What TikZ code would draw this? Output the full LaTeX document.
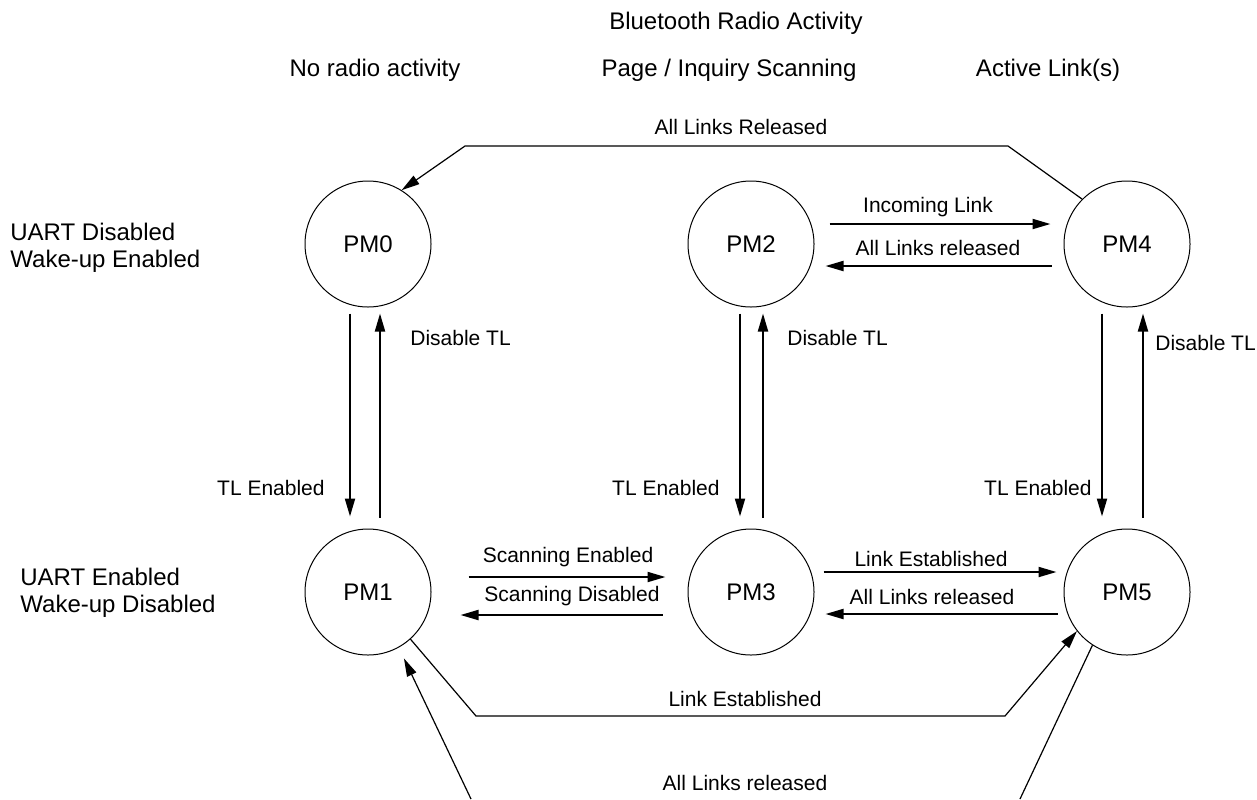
\documentclass[tikz,border=0pt]{standalone}
\usepackage{fontspec}
\setmainfont{Liberation Sans}
\usetikzlibrary{arrows.meta}
\usetikzlibrary{positioning}
\usetikzlibrary{calc}

\tikzset{
  state/.style={draw, circle, line width=0.5pt, minimum size=63pt, inner sep=0pt, font=\fontsize{12}{14}\selectfont},
  trans/.style={-{Triangle[length=9pt,width=5pt]}, line width=1pt},
  link/.style={-{Triangle[length=9pt,width=5pt]}, line width=0.6pt},
  lbl/.style={font=\fontsize{10.5}{12}\selectfont, inner sep=0pt},
  head/.style={font=\fontsize{12}{13.5}\selectfont, inner sep=0pt}
}

\begin{document}
\begin{tikzpicture}[x=0.5pt, y=-0.5pt]
\useasboundingbox (0,0) rectangle (1257,799);
\clip (0,0) rectangle (1257,799);

%headers
\node[head] (radio) at (736,23) {Bluetooth Radio Activity};
\node[head] (none) at (375,70) {No radio activity};
\node[head] (scan) at (729,70) {Page / Inquiry Scanning};
\node[head] (active) at (1048,70) {Active Link(s)};
\node[head, anchor=west, align=left] (uartoff) at (10,248) {UART Disabled\\Wake-up Enabled};
\node[head, anchor=west, align=left] (uarton) at (20,593) {UART Enabled\\Wake-up Disabled};

%states
\node[state] (PM0) at (368,244) {PM0};
\node[state] (PM2) at (751,244) {PM2};
\node[state] (PM4) at (1127,244) {PM4};
\node[state] (PM1) at (368,592) {PM1};
\node[state] (PM3) at (751,592) {PM3};
\node[state] (PM5) at (1127,592) {PM5};

%bends of the long links
\coordinate (relA) at (1008,146);
\coordinate (relB) at (465,146);
\coordinate (estA) at (476,716);
\coordinate (estB) at (1005,716);
\coordinate (botA) at (1020,799);
\coordinate (botB) at (471,799);

%up and down
\draw[trans] ($(PM0.south)+(-18,6)$) -- ($(PM1.north)+(-18,-12)$);
\draw[trans] ($(PM1.north)+(12,-11)$) -- ($(PM0.south)+(12,6)$);
\draw[trans] ($(PM2.south)+(-11,6)$) -- ($(PM3.north)+(-11,-12)$);
\draw[trans] ($(PM3.north)+(12,-11)$) -- ($(PM2.south)+(12,6)$);
\draw[trans] ($(PM4.south)+(-25,6)$) -- ($(PM5.north)+(-25,-12)$);
\draw[trans] ($(PM5.north)+(16,-11)$) -- ($(PM4.south)+(16,6)$);

%left and right
\draw[trans] ($(PM2.east)+(15,-20)$) -- ($(PM4.west)+(-13,-20)$);
\draw[trans] ($(PM4.west)+(-12,22)$) -- ($(PM2.east)+(11,22)$);
\draw[trans] ($(PM1.east)+(37,-15)$) -- ($(PM3.west)+(-22,-15)$);
\draw[trans] ($(PM3.west)+(-25,23)$) -- ($(PM1.east)+(29,23)$);
\draw[trans] ($(PM3.east)+(9,-20)$) -- ($(PM5.west)+(-7,-20)$);
\draw[trans] ($(PM5.west)+(-6,22)$) -- ($(PM3.east)+(11,22)$);

%long links
\draw[link] (PM4.135) -- (relA) -- (relB) -- (PM0.58);
\draw[link] (PM1.-48) -- (estA) -- (estB) -- (PM5.218);
\draw[line width=0.6pt] (PM5.237) -- (botA);
\draw[link, shorten >=6pt] (botB) -- (PM1.-61);

%labels
\node[lbl, anchor=west] (dis0) at (410,338) {Disable TL};
\node[lbl, anchor=east] (en0) at (325,488) {TL Enabled};
\node[lbl, anchor=west] (dis2) at (787,338) {Disable TL};
\node[lbl, anchor=east] (en2) at (720,488) {TL Enabled};
\node[lbl, anchor=west] (dis4) at (1155,343) {Disable TL};
\node[lbl, anchor=east] (en4) at (1092,488) {TL Enabled};
\node[lbl] (incoming) at (928,207) {Incoming Link};
\node[lbl] (reltop) at (938,248) {All Links released};
\node[lbl] (scanon) at (568,557) {Scanning Enabled};
\node[lbl] (scanoff) at (572,596) {Scanning Disabled};
\node[lbl] (estmid) at (931,559) {Link Established};
\node[lbl] (relmid) at (932,597) {All Links released};
\node[lbl] (relall) at (741,127) {All Links Released};
\node[lbl] (estlow) at (745,699) {Link Established};
\node[lbl] (rellow) at (745,783) {All Links released};

\end{tikzpicture}
\end{document}
